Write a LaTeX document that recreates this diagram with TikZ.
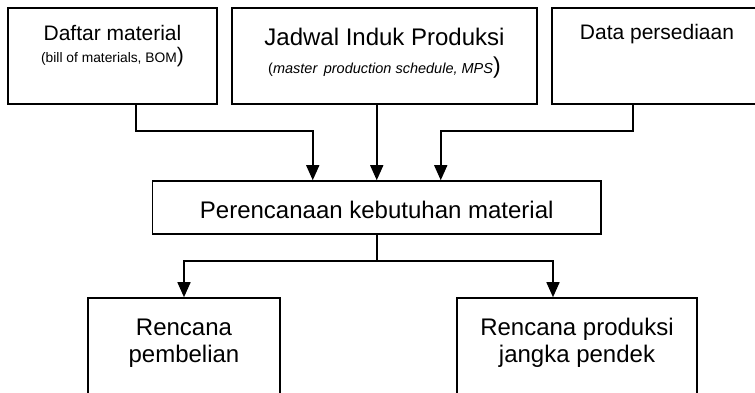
\documentclass[tikz,border=0pt]{standalone}
\usepackage{fontspec}
\setmainfont{Liberation Sans}
\usetikzlibrary{arrows.meta}
\newcommand\txtsize[1]{\fontsize{#1}{#1}\selectfont}
\begin{document}
\begin{tikzpicture}[x=1pt,y=-1pt,
  box/.style={draw,line width=1.6pt,rectangle,inner sep=0pt},
  lbl/.style={anchor=base,inner sep=0pt},
  arr/.style={line width=1.6pt,-{Triangle[length=15pt,width=13pt]}},
  link/.style={line width=1.6pt}]
\useasboundingbox (0,0) rectangle (755,392);
\clip (0,0) rectangle (755,392);

% input boxes
\node[box,minimum width=209pt,minimum height=96pt] (b1) at (112.5,56) {};
\node[box,minimum width=305pt,minimum height=96pt] (b2) at (384.5,56) {};
\node[box,minimum width=210pt,minimum height=96pt] (b3) at (657,56) {};

% central process
\node[box,minimum width=448.5pt,minimum height=53pt] (pk) at (376.75,207.5) {};

% output boxes
\node[box,minimum width=192pt,minimum height=112pt] (b4) at (184,354) {};
\node[box,minimum width=240pt,minimum height=112pt] (b5) at (577,354) {};

% labels
\node[lbl,font=\txtsize{21}] (t1a) at (112.5,40) {Daftar material};
\node[lbl] (t1b) at (112.5,62) {\txtsize{13.8}(bill of materials, BOM\txtsize{21})};
\node[lbl,font=\txtsize{24}] (t2a) at (384.5,45) {Jadwal Induk Produksi};
\node[lbl] (t2b) at (384.5,73) {\txtsize{14.5}(\textit{master\, production schedule, MPS}\txtsize{23})};
\node[lbl,font=\txtsize{21}] (t3a) at (657,39) {Data persediaan};
\node[lbl,font=\txtsize{24}] (tpk) at (376.75,218) {Perencanaan kebutuhan material};
\node[lbl,font=\txtsize{24}] (t4a) at (184,335) {Rencana};
\node[lbl,font=\txtsize{24}] (t4b) at (184,362) {pembelian};
\node[lbl,font=\txtsize{24}] (t5a) at (577,335) {Rencana produksi};
\node[lbl,font=\txtsize{24}] (t5b) at (577,362) {jangka pendek};

% connectors into the central process
\draw[arr] ([xshift=23.5pt]b1.south) -- ++(0,26) -| ([xshift=-64pt]pk.north);
\draw[arr] (pk.north |- b2.south) -- (pk.north);
\draw[arr] ([xshift=-24pt]b3.south) -- ++(0,26) -| ([xshift=64pt]pk.north);

% connectors to the outputs
\draw[link] (pk.south) -- ++(0,26) coordinate (split);
\draw[arr] (split) -| (b4.north);
\draw[arr] (split) -| ([xshift=-24pt]b5.north);
\end{tikzpicture}
\end{document}
